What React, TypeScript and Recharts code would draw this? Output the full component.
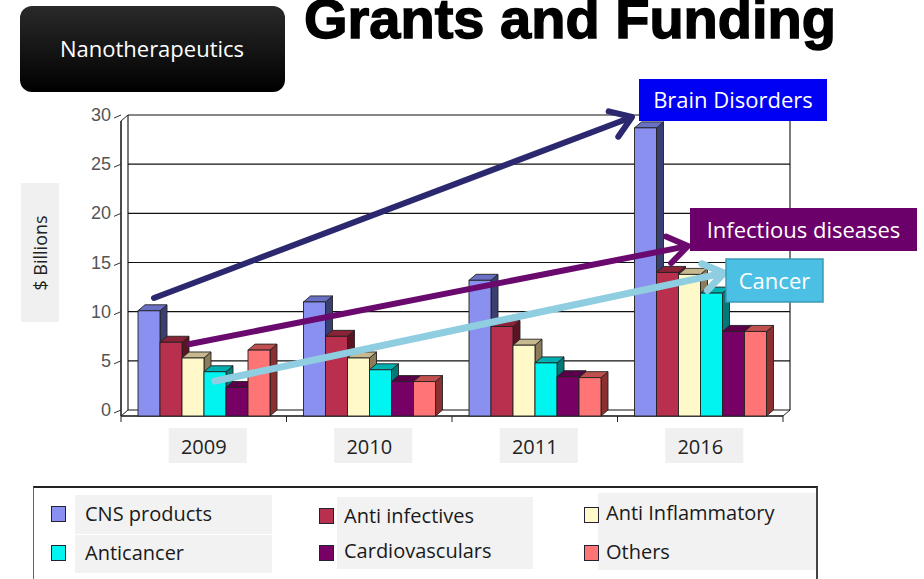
import React from 'react';
import { BarChart, Bar, XAxis, YAxis, CartesianGrid, Legend } from 'recharts';

const YEARS = ['2009', '2010', '2011', '2016'];
const CNS_PRODUCTS = [10.7, 11.6, 13.8, 29.3];
const ANTI_INFECTIVES = [7.5, 8.1, 9.1, 14.6];
const ANTI_INFLAMMATORY = [5.9, 5.9, 7.2, 14.4];
const ANTICANCER = [4.5, 4.7, 5.4, 12.5];
const CARDIOVASCULARS = [2.9, 3.5, 4.0, 8.6];
const OTHERS = [6.7, 3.5, 3.9, 8.6];
const Y_TICKS = [0, 5, 10, 15, 20, 25, 30];

const SERIES = [
  { key: 'cns', name: 'CNS products', values: CNS_PRODUCTS, front: '#8a90f0', top: '#6a70c4', side: '#3a3f72' },
  { key: 'antiInf', name: 'Anti infectives', values: ANTI_INFECTIVES, front: '#b8304e', top: '#8a2238', side: '#5a1424' },
  { key: 'antiInfl', name: 'Anti Inflammatory', values: ANTI_INFLAMMATORY, front: '#fff8c8', top: '#c8b890', side: '#8c7c5c' },
  { key: 'anticancer', name: 'Anticancer', values: ANTICANCER, front: '#00f4f0', top: '#00b0b0', side: '#007a78' },
  { key: 'cardio', name: 'Cardiovasculars', values: CARDIOVASCULARS, front: '#760064', top: '#5a004a', side: '#3c0032' },
  { key: 'others', name: 'Others', values: OTHERS, front: '#ff7474', top: '#c05050', side: '#8a3030' },
];

const data = YEARS.map((year, i) => {
  const row: Record<string, any> = { year };
  SERIES.forEach(s => { row[s.key] = s.values[i]; });
  return row;
});

// back wall of the fake 3d box
const W = 924;
const H = 579;
const LEFT = 128;
const RIGHT = 790;
const TOP = 115;
const BOTTOM = 410;
const DX = 7;
const DY = 6;
const FONT = '"Open Sans", "Noto Sans", sans-serif';

function make3DBar(c: { front: string; top: string; side: string }) {
  return (props: any) => {
    const { x, y, width: w, height: h } = props;
    if (w == null || h == null || isNaN(y)) return <g />;
    const fx = x - DX;
    const fy = y + DY;
    return (
      <g stroke="#222" strokeWidth={0.9}>
        <polygon points={`${fx + w},${fy} ${x + w},${y} ${x + w},${y + h} ${fx + w},${fy + h}`} fill={c.side} />
        <polygon points={`${fx},${fy} ${x},${y} ${x + w},${y} ${fx + w},${fy}`} fill={c.top} />
        <rect x={fx} y={fy} width={w} height={h} fill={c.front} />
      </g>
    );
  };
}

const YTick = (props: any) => {
  const { y, payload } = props;
  return (
    <g>
      <text x={111} y={y + 6} textAnchor="end" fontSize={18} fill="#555" fontFamily='"Liberation Sans", sans-serif'>
        {payload.value}
      </text>
      <line x1={114} y1={y + 3} x2={LEFT - DX} y2={y} stroke="#333" strokeWidth={1} />
    </g>
  );
};

const XTick = (props: any) => {
  const { x, payload } = props;
  const cx = x - DX;
  return (
    <g>
      <rect x={cx - 35} y={BOTTOM + 18} width={78} height={35} fill="#f0f0f0" />
      <text x={cx} y={BOTTOM + 44} textAnchor="middle" fontSize={20} fill="#222" fontFamily={FONT}>
        {payload.value}
      </text>
    </g>
  );
};

const LEGEND_COLS = [
  { box: [41, 7, 197, 39], box2: [41, 47, 197, 38], sx: 17, tx: 51, items: [0, 3], sy: [18, 57], ty: [26, 65] },
  { box: [303, 9, 196, 72], box2: null, sx: 285, tx: 310, items: [1, 4], sy: [20, 57], ty: [28, 63] },
  { box: [564, 5, 218, 77], box2: null, sx: 550, tx: 572, items: [2, 5], sy: [19, 57], ty: [25, 64] },
];

const renderLegend = () => (
  <div style={{ position: 'relative', width: 785, height: 93, boxSizing: 'border-box', borderTop: '2px solid #222', borderLeft: '1px solid #666', borderRight: '2px solid #444' }}>
    {LEGEND_COLS.map((col, ci) => (
      <React.Fragment key={ci}>
        {[col.box, col.box2].filter(Boolean).map((b: any, bi) => (
          <div key={bi} style={{ position: 'absolute', left: b[0], top: b[1], width: b[2], height: b[3], background: '#f2f2f2' }} />
        ))}
        {col.items.map((si, ri) => (
          <React.Fragment key={si}>
            <div style={{ position: 'absolute', left: col.sx, top: col.sy[ri], width: 13, height: 14, background: SERIES[si].front, border: '1.5px solid #223' }} />
            <div style={{ position: 'absolute', left: col.tx, top: col.ty[ri] - 14, fontSize: 20, lineHeight: '28px', color: '#1a1a1a', fontFamily: FONT, whiteSpace: 'nowrap' }}>
              {SERIES[si].name}
            </div>
          </React.Fragment>
        ))}
      </React.Fragment>
    ))}
  </div>
);

function Arrow({ x1, y1, x2, y2, color, width }: any) {
  const ang = Math.atan2(y2 - y1, x2 - x1);
  const L = 24;
  const spread = 0.6;
  const a1 = ang + Math.PI - spread;
  const a2 = ang + Math.PI + spread;
  return (
    <g stroke={color} strokeWidth={width} strokeLinecap="round" strokeLinejoin="round" fill="none">
      <line x1={x1} y1={y1} x2={x2 - 2 * Math.cos(ang)} y2={y2 - 2 * Math.sin(ang)} />
      <polyline points={`${x2 + L * Math.cos(a1)},${y2 + L * Math.sin(a1)} ${x2},${y2} ${x2 + L * Math.cos(a2)},${y2 + L * Math.sin(a2)}`} />
    </g>
  );
}

function Callout({ x, y, w, h, fill, text, stroke }: any) {
  return (
    <g>
      <rect x={x} y={y} width={w} height={h} fill={fill} stroke={stroke || 'none'} strokeWidth={1.5} />
      <text x={x + w / 2} y={y + h / 2 + 8} textAnchor="middle" fontSize={22} fill="#fff" fontFamily={FONT}>
        {text}
      </text>
    </g>
  );
}

export default function App() {
  const catW = (RIGHT - LEFT) / YEARS.length;
  return (
    <div style={{ position: 'absolute', left: 0, top: 0, width: W, height: H, background: '#fff', overflow: 'hidden' }}>
      {/* box frame behind the bars */}
      <svg width={W} height={H} style={{ position: 'absolute', left: 0, top: 0 }}>
        <line x1={LEFT} y1={TOP} x2={LEFT} y2={BOTTOM} stroke="#222" strokeWidth={1.2} />
        <line x1={RIGHT} y1={TOP} x2={RIGHT} y2={BOTTOM} stroke="#222" strokeWidth={1.2} />
        <line x1={LEFT - DX} y1={TOP + DY} x2={LEFT - DX} y2={BOTTOM + DY} stroke="#111" strokeWidth={1.5} />
        <line x1={LEFT - DX} y1={TOP + DY} x2={LEFT} y2={TOP} stroke="#222" strokeWidth={1} />
        <line x1={LEFT - DX} y1={BOTTOM + DY} x2={RIGHT - DX} y2={BOTTOM + DY} stroke="#111" strokeWidth={1.5} />
        <line x1={LEFT - DX} y1={BOTTOM + DY} x2={LEFT} y2={BOTTOM} stroke="#222" strokeWidth={1} />
        <line x1={RIGHT - DX} y1={BOTTOM + DY} x2={RIGHT} y2={BOTTOM} stroke="#222" strokeWidth={1} />
        {YEARS.map((_, i) => (
          <line key={i} x1={LEFT - DX + i * catW} y1={BOTTOM + DY} x2={LEFT - DX + i * catW} y2={BOTTOM + DY + 6} stroke="#222" strokeWidth={1} />
        ))}
        <line x1={RIGHT - DX} y1={BOTTOM + DY} x2={RIGHT - DX} y2={BOTTOM + DY + 6} stroke="#222" strokeWidth={1} />
      </svg>

      <div style={{ position: 'absolute', left: 0, top: 0 }}>
        <BarChart
          width={W}
          height={H}
          data={data}
          margin={{ top: TOP, right: W - RIGHT, left: LEFT - 60, bottom: H - BOTTOM - 60 }}
          barGap={0}
          barCategoryGap={17}
        >
          <CartesianGrid vertical={false} stroke="#111" strokeWidth={1.2} />
          <XAxis dataKey="year" axisLine={false} tickLine={false} height={60} tick={<XTick />} interval={0} />
          <YAxis domain={[0, 30]} ticks={Y_TICKS} width={60} axisLine={false} tickLine={false} tick={<YTick />} interval={0} />
          {SERIES.map(s => (
            <Bar key={s.key} dataKey={s.key} name={s.name} fill={s.front} shape={make3DBar(s)} isAnimationActive={false} />
          ))}
          <Legend
            layout="horizontal"
            verticalAlign="middle"
            align="center"
            content={renderLegend}
            wrapperStyle={{ left: 33, top: 486, width: 785, height: 93 }}
          />
        </BarChart>
      </div>

      {/* annotations */}
      <svg width={W} height={H} style={{ position: 'absolute', left: 0, top: 0, pointerEvents: 'none' }}>
        <defs>
          <linearGradient id="nanoGrad" x1="0" y1="0" x2="0" y2="1">
            <stop offset="0%" stopColor="#2a2a2a" />
            <stop offset="100%" stopColor="#000" />
          </linearGradient>
        </defs>
        <text x={570} y={38} textAnchor="middle" fontSize={56} fontWeight="bold" fill="#000" stroke="#000" strokeWidth={1.4} fontFamily='"Liberation Sans", Arial, sans-serif'>
          Grants and Funding
        </text>
        <rect x={20} y={6} width={265} height={86} rx={12} fill="url(#nanoGrad)" />
        <text x={152} y={57} textAnchor="middle" fontSize={22} fill="#fff" fontFamily={FONT}>Nanotherapeutics</text>

        <rect x={21} y={183} width={38} height={139} fill="#f0f0f0" />
        <text x={0} y={0} transform="translate(47,253) rotate(-90)" textAnchor="middle" fontSize={18} fill="#222" fontFamily={FONT}>$ Billions</text>

        <Arrow x1={154} y1={298} x2={632} y2={117} color="#2b2870" width={6} />
        <Arrow x1={190} y1={344} x2={688} y2={246} color="#6a0a6e" width={6} />
        <Arrow x1={215} y1={381} x2={724} y2={273} color="#8fcde0" width={7} />

        <Callout x={639} y={79} w={188} h={42} fill="#0000f2" text="Brain Disorders" />
        <Callout x={690} y={208} w={227} h={43} fill="#6b006b" text="Infectious diseases" />
        <Callout x={726} y={259} w={97} h={43} fill="#4cc0e4" stroke="#3a9ab8" text="Cancer" />
      </svg>
    </div>
  );
}
